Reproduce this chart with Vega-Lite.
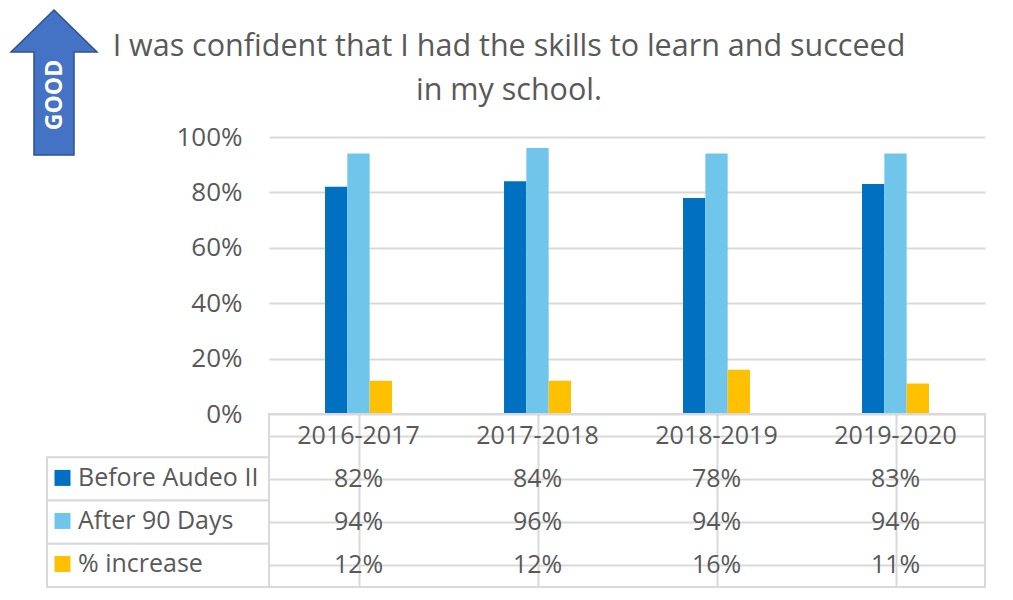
{
  "$schema": "https://vega.github.io/schema/vega-lite/v6.json",
  "background": "white",
  "padding": {"left": 8, "top": 6, "right": 5, "bottom": 5},
  "autosize": {"type": "pad"},
  "config": {
    "font": "Open Sans",
    "view": {"stroke": null}
  },
  "datasets": {
    "d": [
      {"year": "2016-2017", "series": "Before Audeo II", "value": 0.82},
      {"year": "2016-2017", "series": "After 90 Days", "value": 0.94},
      {"year": "2016-2017", "series": "% increase", "value": 0.12},
      {"year": "2017-2018", "series": "Before Audeo II", "value": 0.84},
      {"year": "2017-2018", "series": "After 90 Days", "value": 0.96},
      {"year": "2017-2018", "series": "% increase", "value": 0.12},
      {"year": "2018-2019", "series": "Before Audeo II", "value": 0.78},
      {"year": "2018-2019", "series": "After 90 Days", "value": 0.94},
      {"year": "2018-2019", "series": "% increase", "value": 0.16},
      {"year": "2019-2020", "series": "Before Audeo II", "value": 0.83},
      {"year": "2019-2020", "series": "After 90 Days", "value": 0.94},
      {"year": "2019-2020", "series": "% increase", "value": 0.11}
    ],
    "arrow": [{"label": "GOOD"}],
    "series": [
      {"series": "Before Audeo II"},
      {"series": "After 90 Days"},
      {"series": "% increase"}
    ],
    "empty": []
  },
  "columns": 2,
  "bounds": "flush",
  "spacing": {"row": 0, "column": 0},
  "resolve": {"scale": {"color": "independent"}, "legend": {"color": "independent"}},
  "concat": [
    {
      "width": 14,
      "height": 127,
      "data": {"name": "arrow"},
      "layer": [
        {
          "mark": {
            "type": "point",
            "shape": "M0,-0.876L0.593,-0.297L0.276,-0.297L0.276,1.124L-0.276,1.124L-0.276,-0.297L-0.593,-0.297Z",
            "size": 21025,
            "filled": true,
            "fill": "#4472C4",
            "stroke": "#2F528F",
            "strokeWidth": 1.5,
            "opacity": 1
          },
          "encoding": {}
        },
        {
          "mark": {
            "type": "text",
            "angle": 270,
            "fontSize": 23,
            "fontWeight": "bold",
            "font": "Open Sans",
            "color": "white",
            "dx": -21.5,
            "dy": 1
          },
          "encoding": {"text": {"field": "label"}}
        }
      ]
    },
    {
      "width": 716,
      "height": 100,
      "data": {"name": "empty"},
      "mark": {"type": "text"},
      "encoding": {}
    },
    {
      "width": 10,
      "height": 277,
      "data": {"name": "empty"},
      "mark": {"type": "text"},
      "encoding": {}
    },
    {
      "width": 716,
      "height": 277,
      "data": {"name": "d"},
      "title": {
        "text": ["I was confident that I had the skills to learn and succeed", "in my school."],
        "fontSize": 30.5,
        "font": "Open Sans",
        "fontWeight": "normal",
        "color": "#595959",
        "anchor": "middle",
        "frame": "bounds",
        "offset": 18,
        "lineHeight": 44,
        "dx": -7
      },
      "mark": {"type": "bar"},
      "encoding": {
        "x": {
          "field": "year",
          "type": "nominal",
          "sort": null,
          "scale": {"paddingInner": 0.626, "paddingOuter": 0.313},
          "axis": null
        },
        "xOffset": {
          "field": "series",
          "type": "nominal",
          "sort": ["Before Audeo II", "After 90 Days", "% increase"],
          "scale": {"paddingInner": 0, "paddingOuter": 0}
        },
        "y": {
          "field": "value",
          "type": "quantitative",
          "scale": {"domain": [0, 1]},
          "axis": {
            "values": [0, 0.2, 0.4, 0.6, 0.8, 1],
            "format": ".0%",
            "labelFontSize": 26,
            "labelFont": "Open Sans",
            "labelColor": "#595959",
            "labelPadding": 27,
            "ticks": false,
            "domain": false,
            "gridColor": "#d9d9d9",
            "gridWidth": 2,
            "minExtent": 222,
            "maxExtent": 222,
            "title": null
          }
        },
        "color": {
          "field": "series",
          "type": "nominal",
          "scale": {
            "domain": ["Before Audeo II", "After 90 Days", "% increase"],
            "range": ["#0070C0", "#70C5EA", "#FFC000"]
          },
          "legend": null
        }
      }
    },
    {
      "width": 222,
      "height": 173,
      "data": {"name": "series"},
      "layer": [
        {
          "mark": {"type": "rect", "fill": "white", "stroke": "#d9d9d9", "strokeWidth": 2},
          "encoding": {
            "y": {
              "field": "series",
              "type": "nominal",
              "scale": {
                "domain": ["header", "Before Audeo II", "After 90 Days", "% increase"],
                "paddingInner": 0,
                "paddingOuter": 0
              },
              "axis": null
            }
          }
        },
        {
          "mark": {"type": "point", "filled": true, "opacity": 0},
          "encoding": {
            "color": {
              "field": "series",
              "type": "nominal",
              "scale": {
                "domain": ["Before Audeo II", "After 90 Days", "% increase"],
                "range": ["#0070C0", "#70C5EA", "#FFC000"]
              },
              "legend": {
                "orient": "none",
                "legendX": 3,
                "legendY": 51.4,
                "direction": "vertical",
                "title": null,
                "symbolType": "square",
                "symbolSize": 256,
                "symbolStrokeWidth": 0,
                "symbolOpacity": 1,
                "labelFontSize": 25,
                "labelFont": "Open Sans",
                "labelColor": "#595959",
                "labelOffset": 3,
                "rowPadding": 17.05,
                "padding": 0,
                "labelLimit": 300
              }
            }
          }
        }
      ]
    },
    {
      "width": 716,
      "height": 173,
      "data": {"name": "d"},
      "view": {"stroke": "#d9d9d9", "strokeWidth": 2},
      "encoding": {
        "x": {
          "field": "year",
          "type": "nominal",
          "sort": null,
          "scale": {"paddingInner": 0, "paddingOuter": 0},
          "axis": {
            "bandPosition": 0,
            "grid": true,
            "gridColor": "#d9d9d9",
            "gridWidth": 2,
            "labels": false,
            "ticks": false,
            "domain": false,
            "title": null
          }
        }
      },
      "layer": [
        {
          "transform": [{"filter": "datum.series == 'Before Audeo II'"}],
          "mark": {"type": "text", "fontSize": 25, "font": "Open Sans", "color": "#595959"},
          "encoding": {
            "y": {
              "datum": "header",
              "type": "nominal",
              "scale": {
                "domain": ["header", "Before Audeo II", "After 90 Days", "% increase"],
                "paddingInner": 0,
                "paddingOuter": 0
              },
              "axis": {
                "bandPosition": 0,
                "grid": true,
                "gridColor": "#d9d9d9",
                "gridWidth": 2,
                "labels": false,
                "ticks": false,
                "domain": false,
                "title": null,
                "minExtent": 0,
                "maxExtent": 0
              }
            },
            "text": {"field": "year"}
          }
        },
        {
          "mark": {"type": "text", "fontSize": 25, "font": "Open Sans", "color": "#595959"},
          "encoding": {
            "y": {
              "field": "series",
              "type": "nominal",
              "scale": {
                "domain": ["header", "Before Audeo II", "After 90 Days", "% increase"],
                "paddingInner": 0,
                "paddingOuter": 0
              }
            },
            "text": {"field": "value", "type": "quantitative", "format": ".0%"}
          }
        }
      ]
    }
  ]
}
